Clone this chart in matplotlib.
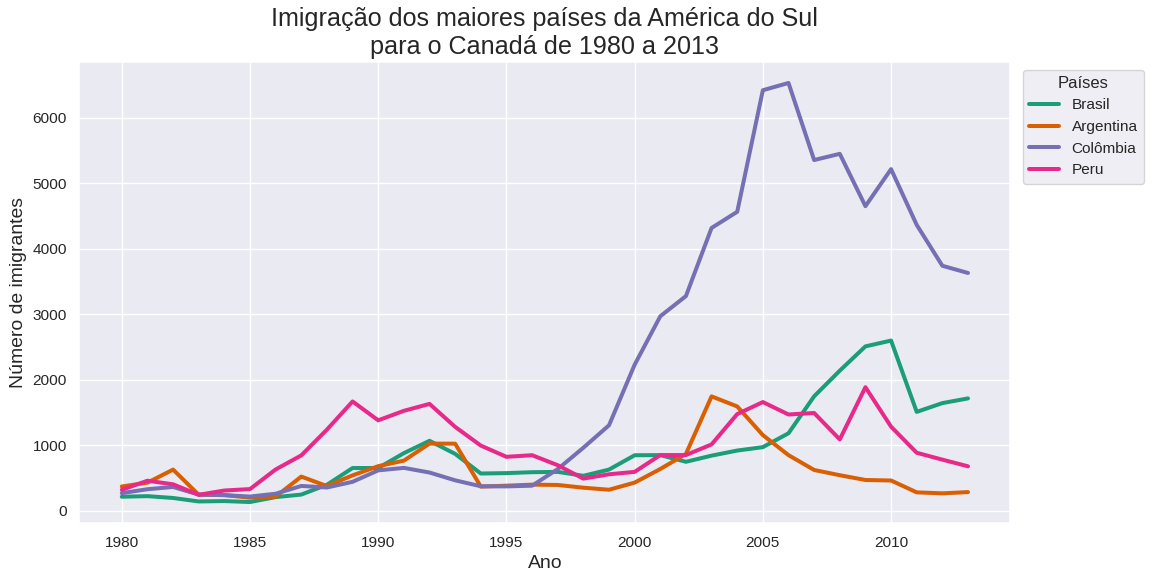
import matplotlib
matplotlib.use("Agg")
import matplotlib.pyplot as plt
import seaborn as sns

years = list(range(1980, 2014))
brasil = [211, 220, 192, 139, 145, 130, 205, 244, 394, 650, 650, 877, 1066, 866, 566, 572, 586, 591, 531, 626,
          845, 847, 745, 839, 917, 969, 1181, 1746, 2138, 2509, 2598, 1508, 1642, 1714]
argentina = [368, 426, 626, 241, 237, 196, 213, 519, 374, 538, 678, 763, 1023, 1022, 366, 380, 396, 391, 349, 318,
             427, 635, 865, 1745, 1591, 1153, 847, 620, 540, 467, 459, 278, 263, 282]
colombia = [266, 326, 360, 244, 235, 214, 257, 376, 352, 439, 614, 652, 581, 462, 371, 369, 380, 633, 960, 1303,
            2229, 2969, 3278, 4319, 4566, 6424, 6535, 5357, 5452, 4652, 5218, 4366, 3741, 3631]
peru = [317, 456, 401, 241, 306, 328, 628, 843, 1237, 1667, 1379, 1524, 1630, 1279, 993, 821, 846, 693, 488, 554,
        591, 848, 848, 1011, 1474, 1658, 1468, 1491, 1087, 1885, 1282, 883, 778, 676]
series_names = ["Brasil", "Argentina", "Colômbia", "Peru"]

sns.set_theme(style="darkgrid")
plt.rcParams['font.family'] = ['Liberation Sans', 'DejaVu Sans']
colors = sns.color_palette("Dark2", 4)

fig, ax = plt.subplots(figsize=(12, 585 / 96), dpi=96)
fig.subplots_adjust(left=0.069, right=0.877, top=0.894, bottom=0.106)

for name, vals, c in zip(series_names, [brasil, argentina, colombia, peru], colors):
    ax.plot(years, vals, color=c, lw=3, label=name)

ax.set_title("Imigração dos maiores países da América do Sul\npara o Canadá de 1980 a 2013", fontsize=18.8)
ax.set_xlabel("Ano", fontsize=14.5)
ax.set_ylabel("Número de imigrantes", fontsize=14.5)
ax.set_xticks(range(1980, 2014, 5))
ax.tick_params(labelsize=11.5)
ax.legend(title="Países", bbox_to_anchor=(1.005, 1), loc="upper left", title_fontsize=12.5, fontsize=11.5)

fig.savefig("out.png", dpi=96)
